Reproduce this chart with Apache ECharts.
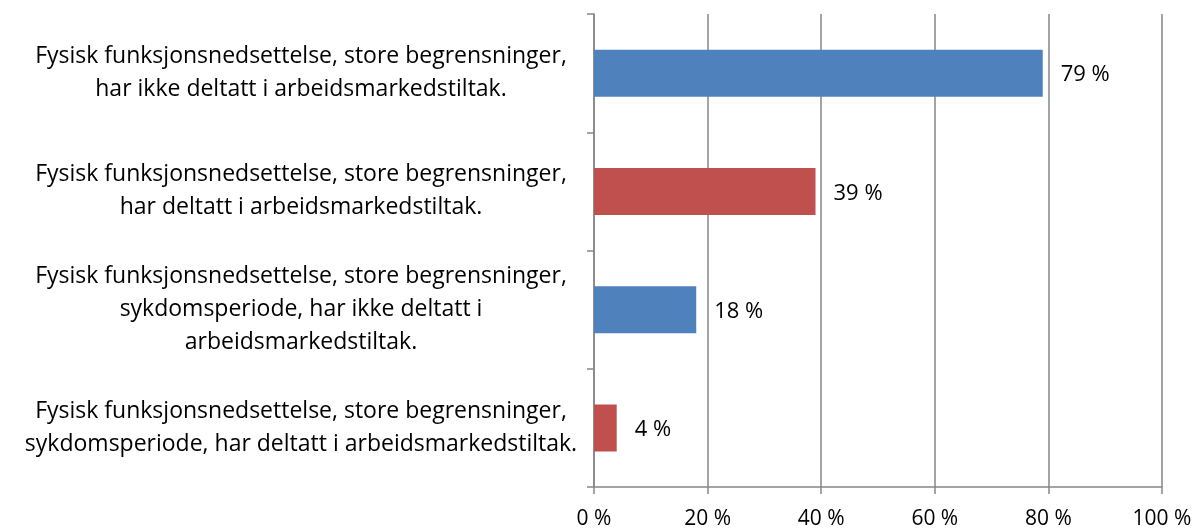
<!DOCTYPE html>
<html>
<head>
<meta charset="utf-8">
<script src="https://cdn.jsdelivr.net/npm/echarts@6/dist/echarts.min.js"></script>
<style>
html,body{margin:0;padding:0;background:#fff;}
#chart{width:1196px;height:532px;}
</style>
</head>
<body>
<div id="chart"></div>
<script>
// kategorier (ovenfra og ned)
var categories = [
  'Fysisk funksjonsnedsettelse, store begrensninger,\nhar ikke deltatt i arbeidsmarkedstiltak.',
  'Fysisk funksjonsnedsettelse, store begrensninger,\nhar deltatt i arbeidsmarkedstiltak.',
  'Fysisk funksjonsnedsettelse, store begrensninger,\nsykdomsperiode, har ikke deltatt i\narbeidsmarkedstiltak.',
  'Fysisk funksjonsnedsettelse, store begrensninger,\nsykdomsperiode, har deltatt i arbeidsmarkedstiltak.'
];
var values = [79, 39, 18, 4];
var barColors = ['#4F81BD', '#C0504D', '#4F81BD', '#C0504D'];
var xTicks = [0, 20, 40, 60, 80, 100];

var font = 'Open Sans';
var myChart = echarts.init(document.getElementById('chart'));

var data = [];
for (var i = 0; i < values.length; i++) {
  data.push({value: values[i], itemStyle: {color: barColors[i]}});
}

var option = {
  animation: false,
  grid: {left: 594, right: 34, top: 14, bottom: 45},
  xAxis: {
    type: 'value',
    min: xTicks[0],
    max: xTicks[xTicks.length - 1],
    interval: 20,
    axisLine: {show: true, lineStyle: {color: '#868686', width: 1.5}},
    axisTick: {show: true, length: 7, lineStyle: {color: '#868686', width: 1.5}},
    splitLine: {show: true, lineStyle: {color: '#868686', width: 1.5}},
    axisLabel: {
      formatter: '{value} %',
      color: '#000',
      fontFamily: font,
      fontSize: 21,
      margin: 22
    }
  },
  yAxis: {
    type: 'category',
    inverse: true,
    data: categories,
    axisLine: {show: true, lineStyle: {color: '#868686', width: 1.5}},
    axisTick: {show: true, length: 7, lineStyle: {color: '#868686', width: 1.5}},
    axisLabel: {
      color: '#000',
      fontFamily: font,
      fontSize: 23,
      lineHeight: 33,
      align: 'center',
      margin: 293
    }
  },
  series: [{
    type: 'bar',
    data: data,
    barWidth: 47,
    label: {
      show: true,
      position: 'right',
      distance: 18,
      offset: [0, 2],
      formatter: '{c} %',
      color: '#000',
      fontFamily: font,
      fontSize: 22
    }
  }]
};
myChart.setOption(option);
</script>
</body>
</html>
